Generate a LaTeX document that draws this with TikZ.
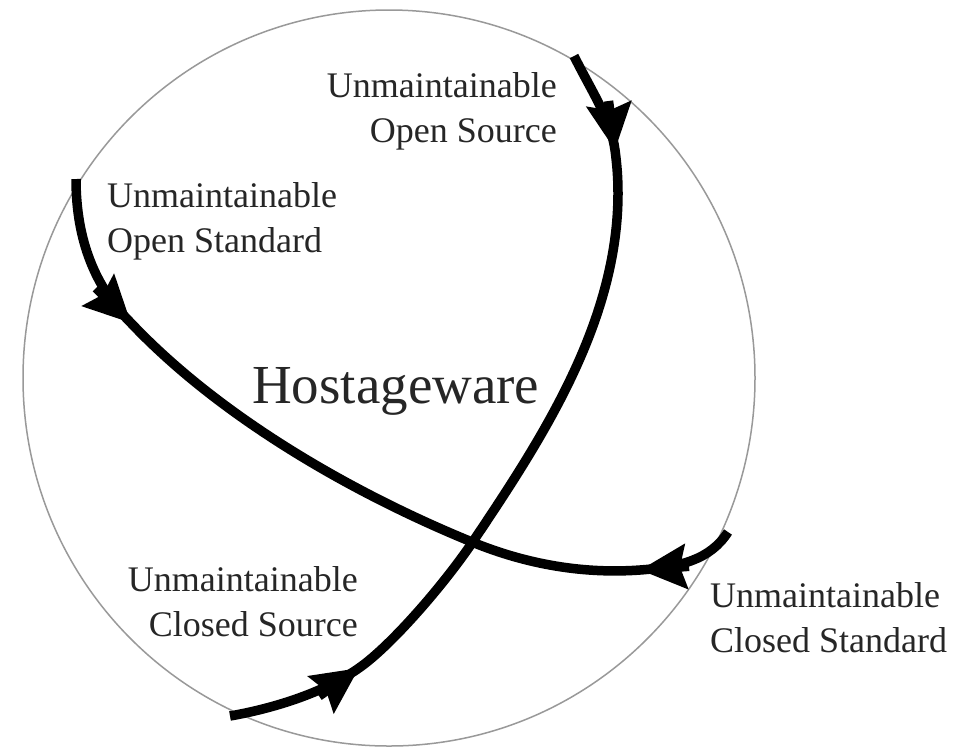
\documentclass[tikz,border=0pt]{standalone}
\usepackage{fontspec}
\setmainfont{Liberation Serif}
\usetikzlibrary{arrows.meta,shapes.geometric}
\tikzset{
  ring/.style={draw=black!40, line width=1.5pt},
  strand/.style={line width=9.5pt, line cap=butt, black},
  headtip/.tip={Stealth[length=46pt,width=44pt,inset=6pt]},
  lbl/.style={font=\fontsize{36}{45}\selectfont, text=black!85, inner sep=0pt},
  big/.style={font=\fontsize{55}{60}\selectfont, text=black!85, inner sep=0pt}
}
\begin{document}
\begin{tikzpicture}[x=1pt,y=-1pt]
\useasboundingbox (0,0) rectangle (955,748);
\fill[white] (0,0) rectangle (955,748);
\node[ring, ellipse, minimum width=732pt, minimum height=736pt, inner sep=0pt] (sphere) at (389,378) {};

% open standard -> closed standard strand
\coordinate (a0) at (76,179);
\coordinate (a1) at (131,323);
\coordinate (a2) at (472,542);
\coordinate (a3) at (640,570);
\coordinate (a4) at (728,532);
\coordinate (a1t) at (96,288);
\coordinate (a3t) at (689,566.3);
\draw[strand] (a0) .. controls (76,240) and (95,287) .. (a1)
              .. controls (220,417) and (352,493) .. (a2)
              .. controls (528,565) and (585,574) .. (a3)
              .. controls (680,567) and (710,560) .. (a4);
\draw[strand, -headtip] (a1t) -- (a1);
\draw[strand, headtip-] (a3) -- (a3t);

% open source -> closed source strand
\coordinate (b0) at (574,56);
\coordinate (b1) at (615,150);
\coordinate (b2) at (618,193);
\coordinate (b3) at (474,540);
\coordinate (b4) at (359,668);
\coordinate (b5) at (230,716);
\coordinate (b1t) at (608.5,101);
\coordinate (b4t) at (319,696);
\draw[strand] (b0) .. controls (592,92) and (611,120) .. (b1)
              .. controls (617,165) and (618,178) .. (b2)
              .. controls (618,323) and (541,440) .. (b3)
              .. controls (446,582) and (392,645) .. (b4)
              .. controls (322,694) and (270,709) .. (b5);
\draw[strand, -headtip] (b1t) -- (b1);
\draw[strand, headtip-] (b4) -- (b4t);

\node[lbl, align=right, anchor=base east] (osrc) at (557,142) {Unmaintainable\\Open Source};
\node[lbl, align=left, anchor=base west] (ostd) at (107,252) {Unmaintainable\\Open Standard};
\node[big, anchor=base west] (host) at (252,403) {Hostageware};
\node[lbl, align=right, anchor=base east] (csrc) at (358,636) {Unmaintainable\\Closed Source};
\node[lbl, align=left, anchor=base west] (cstd) at (710,652) {Unmaintainable\\Closed Standard};
\end{tikzpicture}
\end{document}
